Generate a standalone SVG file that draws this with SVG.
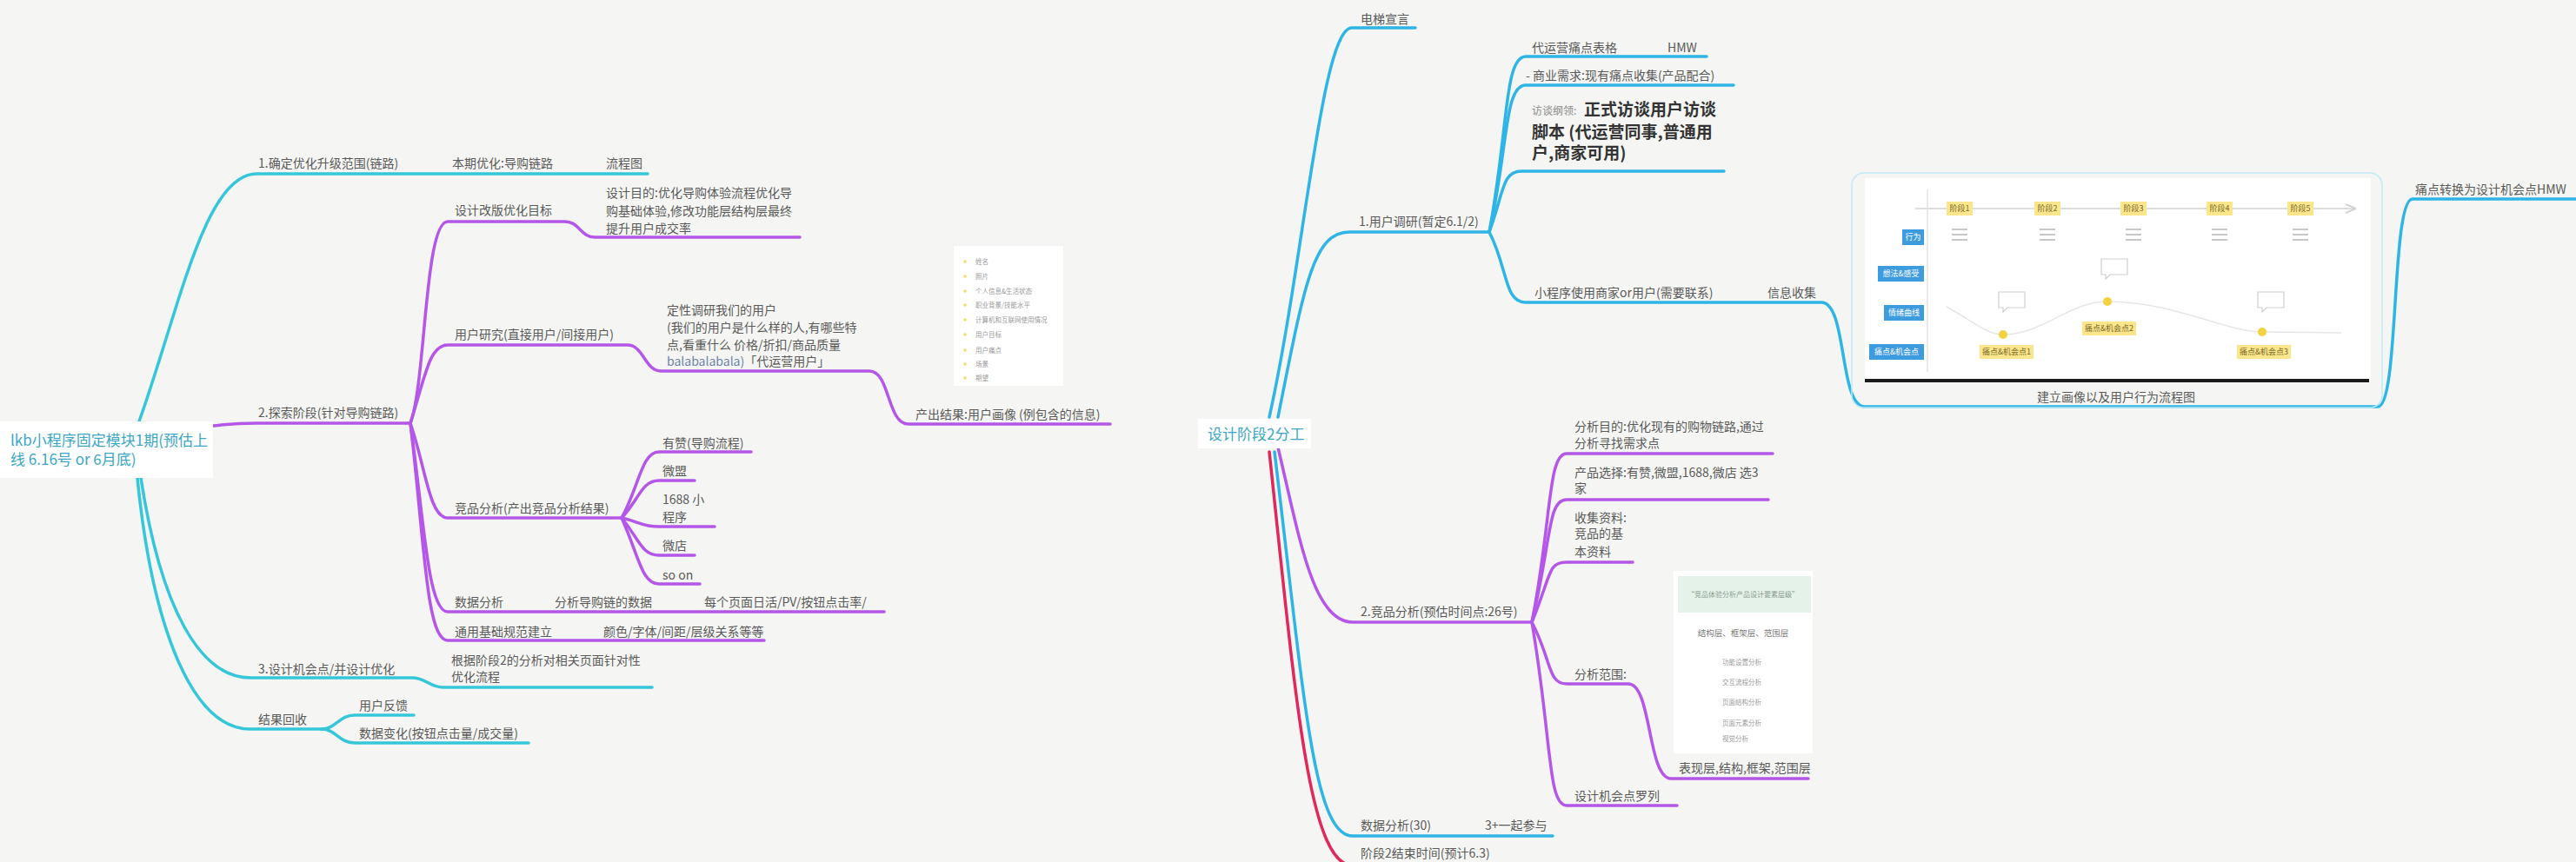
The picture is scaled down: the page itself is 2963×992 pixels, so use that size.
<svg xmlns="http://www.w3.org/2000/svg" width="2963" height="992" viewBox="0 0 2963 992">
<style>
.t{font-family:"Noto Sans CJK SC","Noto Sans",sans-serif;font-size:14px;fill:#595959}
.root{font-size:17px;fill:#3ba7c4}
.big{font-size:19px;font-weight:bold;fill:#333}
.sm{font-size:12px;fill:#8a8a8a}
.tiny{font-size:7.5px;fill:#9a9a9a}
.hdr{font-size:8px;fill:#8a9a8f}
.lay{font-size:9.5px;fill:#777}
.tb{font-size:9px;fill:#fff}
.ty{font-size:9px;fill:#7a6a2a}
.ln{fill:none;stroke-width:3.5;stroke-linecap:round;stroke-linejoin:round}
.c1{stroke:#36c6da}
.c2{stroke:#2fb4e6}
.p{stroke:#b457e8}
.r{stroke:#e0285a}
.lab{fill:#3d9be0}
.yel{fill:#fbe68c}
.bub{fill:#fff;stroke:#cfcfcf;stroke-width:1.2}
</style>
<defs>
<marker id="ah" viewBox="0 0 10 10" refX="9" refY="5" markerWidth="8" markerHeight="8" orient="auto"><path d="M0,1 L10,5 L0,9" fill="none" stroke="#cfcfcf" stroke-width="1.5"/></marker>
</defs>
<rect width="2963" height="992" fill="#f5f6f3"/>

<g id="connectors">
<path class="ln c1" d="M160,485 C205,360 235,200 295,200 L745,200"/>
<path class="ln p" d="M245,490 C265,488 270,487 295,487 L472,487"/>
<path class="ln p" d="M472,487 C490,440 488,255 515,255 L650,255 C666,255 668,273 684,273 L920,273"/>
<path class="ln p" d="M472,487 C490,430 494,397 515,397 L722,397 C740,397 742,427 760,427 L1000,427 C1024,427 1020,488 1045,488 L1277,488"/>
<path class="ln p" d="M472,487 C490,540 494,596 515,596 L715,596"/>
<path class="ln p" d="M472,487 C488,600 492,704 515,704 L1017,704"/>
<path class="ln p" d="M472,487 C488,620 490,737 515,737 L879,737"/>
<path class="ln p" d="M715,596 C735,560 738,520 758,520 L864,520"/>
<path class="ln p" d="M715,596 C735,575 738,553 758,553 L799,553"/>
<path class="ln p" d="M715,596 C735,600 738,606 758,606 L822,606"/>
<path class="ln p" d="M715,596 C735,620 738,639 758,639 L799,639"/>
<path class="ln p" d="M715,596 C735,640 738,672 758,672 L805,672"/>
<path class="ln c1" d="M162,550 C185,700 230,780 288,780 L474,780 C490,780 494,791 510,791 L750,791"/>
<path class="ln c1" d="M158,550 C175,720 220,839 288,839 L370,839"/>
<path class="ln c1" d="M370,839 C386,839 390,823 408,823 L476,823"/>
<path class="ln c1" d="M370,839 C386,839 390,855 408,855 L608,855"/>
<path class="ln c2" d="M1460,480 C1500,300 1520,32 1555,32 L1628,32"/>
<path class="ln c2" d="M1470,480 C1500,330 1510,267 1552,267 L1713,267"/>
<path class="ln c2" d="M1713,267 C1735,150 1730,65 1755,65 L1963,65"/>
<path class="ln c2" d="M1713,267 C1735,170 1730,98 1755,98 L1994,98"/>
<path class="ln c2" d="M1713,267 C1730,220 1728,197 1750,197 L1983,197"/>
<path class="ln c2" d="M1713,267 C1735,310 1730,348 1755,348 L2095,348 C2125,348 2115,468 2145,468 L2735,468 C2760,468 2750,229 2775,229 L2963,229"/>
<path class="ln p" d="M1470,515 C1495,620 1510,716 1556,716 L1762,716"/>
<path class="ln p" d="M1762,716 C1785,600 1780,522 1802,522 L2039,522"/>
<path class="ln p" d="M1762,716 C1785,620 1780,575 1802,575 L2034,575"/>
<path class="ln p" d="M1762,716 C1785,660 1780,647 1802,647 L1878,647"/>
<path class="ln p" d="M1762,716 C1785,760 1780,787 1802,787 L1873,787 C1900,787 1895,896 1922,896 L2080,896"/>
<path class="ln p" d="M1762,716 C1785,850 1780,927 1802,927 L1929,927"/>
<path class="ln c2" d="M1466,520 C1500,800 1510,962 1556,962 L1786,962"/>
<path class="ln r" d="M1460,520 C1490,800 1505,994 1555,996"/>
</g>

<g id="root-left">
<rect x="0" y="485" width="245" height="65" fill="#ffffff"/>
<text class="t root" x="12" y="513">lkb小程序固定模块1期(预估上</text>
<text class="t root" x="12" y="535">线 6.16号 or 6月底)</text>
</g>
<g id="n1"><text class="t" x="297" y="193">1.确定优化升级范围(链路)</text></g>
<g id="n1-1"><text class="t" x="520" y="193">本期优化:导购链路</text></g>
<g id="n1-1-1"><text class="t" x="697" y="193">流程图</text></g>
<g id="n2"><text class="t" x="297" y="480">2.探索阶段(针对导购链路)</text></g>
<g id="n2-1"><text class="t" x="523" y="247">设计改版优化目标</text></g>
<g id="n2-1-1">
<text class="t" x="697" y="227">设计目的:优化导购体验流程优化导</text>
<text class="t" x="697" y="248">购基础体验,修改功能层结构层最终</text>
<text class="t" x="697" y="268">提升用户成交率</text>
</g>
<g id="n2-2"><text class="t" x="523" y="390">用户研究(直接用户/间接用户)</text></g>
<g id="n2-2-1">
<text class="t" x="767" y="362">定性调研我们的用户</text>
<text class="t" x="767" y="382">(我们的用户是什么样的人,有哪些特</text>
<text class="t" x="767" y="402">点,看重什么 价格/折扣/商品质量</text>
<text class="t" x="767" y="421"><tspan fill="#6b82ad">balabalabala)</tspan>「代运营用户」</text>
</g>
<g id="n2-2-2">
<rect x="1097" y="283" width="126" height="161" fill="#ffffff"/>
<g fill="#f2dc6a">
<circle cx="1110" cy="301" r="1.8"/><circle cx="1110" cy="318" r="1.8"/><circle cx="1110" cy="335" r="1.8"/><circle cx="1110" cy="351" r="1.8"/><circle cx="1110" cy="368" r="1.8"/><circle cx="1110" cy="385" r="1.8"/><circle cx="1110" cy="403" r="1.8"/><circle cx="1110" cy="419" r="1.8"/><circle cx="1110" cy="435" r="1.8"/>
</g>
<text class="t tiny" x="1122" y="304">姓名</text>
<text class="t tiny" x="1122" y="321">照片</text>
<text class="t tiny" x="1122" y="338">个人信息&amp;生活状态</text>
<text class="t tiny" x="1122" y="354">职业背景/技能水平</text>
<text class="t tiny" x="1122" y="371">计算机和互联网使用情况</text>
<text class="t tiny" x="1122" y="388">用户目标</text>
<text class="t tiny" x="1122" y="406">用户痛点</text>
<text class="t tiny" x="1122" y="422">场景</text>
<text class="t tiny" x="1122" y="438">期望</text>
<text class="t" x="1053" y="482">产出结果:用户画像 (例包含的信息)</text>
</g>
<g id="n2-3"><text class="t" x="523" y="590">竞品分析(产出竞品分析结果)</text></g>
<g id="n2-3-1"><text class="t" x="762" y="515">有赞(导购流程)</text></g>
<g id="n2-3-2"><text class="t" x="762" y="547">微盟</text></g>
<g id="n2-3-3"><text class="t" x="762" y="580">1688 小</text><text class="t" x="762" y="600">程序</text></g>
<g id="n2-3-4"><text class="t" x="762" y="633">微店</text></g>
<g id="n2-3-5"><text class="t" x="762" y="667">so on</text></g>
<g id="n2-4"><text class="t" x="523" y="698">数据分析</text></g>
<g id="n2-4-1"><text class="t" x="638" y="698">分析导购链的数据</text></g>
<g id="n2-4-2"><text class="t" x="810" y="698">每个页面日活/PV/按钮点击率/</text></g>
<g id="n2-5"><text class="t" x="523" y="732">通用基础规范建立</text></g>
<g id="n2-5-1"><text class="t" x="694" y="732">颜色/字体/间距/层级关系等等</text></g>
<g id="n3"><text class="t" x="297" y="775">3.设计机会点/并设计优化</text></g>
<g id="n3-1">
<text class="t" x="519" y="765">根据阶段2的分析对相关页面针对性</text>
<text class="t" x="519" y="784">优化流程</text>
</g>
<g id="n4"><text class="t" x="297" y="833">结果回收</text></g>
<g id="n4-1"><text class="t" x="413" y="817">用户反馈</text></g>
<g id="n4-2"><text class="t" x="413" y="849">数据变化(按钮点击量/成交量)</text></g>

<g id="root-right">
<rect x="1378" y="482" width="130" height="34" fill="#ffffff"/>
<text class="t root" x="1389" y="506">设计阶段2分工</text>
</g>
<g id="r0"><text class="t" x="1565" y="27">电梯宣言</text></g>
<g id="r1"><text class="t" x="1563" y="260">1.用户调研(暂定6.1/2)</text></g>
<g id="r1-1"><text class="t" x="1762" y="60">代运营痛点表格</text><text class="t" x="1918" y="60">HMW</text></g>
<g id="r1-2"><text class="t" x="1755" y="92">- 商业需求:现有痛点收集(产品配合)</text></g>
<g id="r1-3">
<text class="t sm" x="1762" y="132">访谈纲领:</text>
<text class="t big" x="1822" y="133">正式访谈用户访谈</text>
<text class="t big" x="1762" y="159">脚本 (代运营同事,普通用</text>
<text class="t big" x="1762" y="183">户,商家可用)</text>
</g>
<g id="r1-4"><text class="t" x="1765" y="342">小程序使用商家or用户(需要联系)</text></g>
<g id="r1-4-1"><text class="t" x="2033" y="342">信息收集</text></g>
<g id="r1-4-1-1">
<rect x="2130" y="199" width="610" height="270" rx="14" fill="none" stroke="#bfeaf6" stroke-width="1.5"/>
<rect x="2145" y="205" width="582" height="233" fill="#ffffff"/>
<line x1="2203" y1="240" x2="2709" y2="240" stroke="#d2d2d2" stroke-width="1.5" marker-end="url(#ah)"/>
<line x1="2217" y1="218" x2="2217" y2="428" stroke="#e2e2e2" stroke-width="1.5"/>
<rect class="yel" x="2239" y="232" width="30" height="16"/><text class="t ty" x="2254" y="243" text-anchor="middle">阶段1</text>
<rect class="yel" x="2340" y="232" width="30" height="16"/><text class="t ty" x="2355" y="243" text-anchor="middle">阶段2</text>
<rect class="yel" x="2439" y="232" width="30" height="16"/><text class="t ty" x="2454" y="243" text-anchor="middle">阶段3</text>
<rect class="yel" x="2538" y="232" width="30" height="16"/><text class="t ty" x="2553" y="243" text-anchor="middle">阶段4</text>
<rect class="yel" x="2631" y="232" width="30" height="16"/><text class="t ty" x="2646" y="243" text-anchor="middle">阶段5</text>
<g stroke="#b5b5b5" stroke-width="1.3">
<path d="M2245,264h18M2245,270h18M2245,276h18"/>
<path d="M2346,264h18M2346,270h18M2346,276h18"/>
<path d="M2445,264h18M2445,270h18M2445,276h18"/>
<path d="M2544,264h18M2544,270h18M2544,276h18"/>
<path d="M2637,264h18M2637,270h18M2637,276h18"/>
</g>
<rect class="lab" x="2188" y="264" width="25" height="18"/><text class="t tb" x="2200.5" y="276" text-anchor="middle">行为</text>
<rect class="lab" x="2160" y="306" width="53" height="18"/><text class="t tb" x="2186.5" y="318" text-anchor="middle">想法&amp;感受</text>
<rect class="lab" x="2167" y="351" width="46" height="18"/><text class="t tb" x="2190" y="363" text-anchor="middle">情绪曲线</text>
<rect class="lab" x="2150" y="396" width="63" height="18"/><text class="t tb" x="2181.5" y="408" text-anchor="middle">痛点&amp;机会点</text>
<path d="M2239,353 C2270,370 2285,385 2304,385 C2350,385 2380,347 2424,347 C2500,347 2560,382 2602,382 C2640,382 2670,383 2693,383" fill="none" stroke="#e6e6e6" stroke-width="1.5"/>
<path class="bub" d="M2299,336 h30 v18 h-20 l-5,5 v-5 h-5 z"/>
<path class="bub" d="M2417,298 h30 v18 h-20 l-5,5 v-5 h-5 z"/>
<path class="bub" d="M2597,336 h30 v18 h-20 l-5,5 v-5 h-5 z"/>
<circle cx="2304" cy="385" r="5" fill="#f3d240"/>
<circle cx="2424" cy="347" r="5" fill="#f3d240"/>
<circle cx="2602" cy="382" r="5" fill="#f3d240"/>
<rect class="yel" x="2277" y="397" width="62" height="16"/><text class="t ty" x="2308" y="408" text-anchor="middle">痛点&amp;机会点1</text>
<rect class="yel" x="2395" y="370" width="62" height="16"/><text class="t ty" x="2426" y="381" text-anchor="middle">痛点&amp;机会点2</text>
<rect class="yel" x="2573" y="397" width="62" height="16"/><text class="t ty" x="2604" y="408" text-anchor="middle">痛点&amp;机会点3</text>
<line x1="2145" y1="438" x2="2725" y2="438" stroke="#1a1a1a" stroke-width="4"/>
<text class="t" x="2434" y="462" text-anchor="middle">建立画像以及用户行为流程图</text>
</g>
<g id="r1-4-1-1-1"><text class="t" x="2778" y="223">痛点转换为设计机会点HMW</text></g>
<g id="r2"><text class="t" x="1565" y="709">2.竞品分析(预估时间点:26号)</text></g>
<g id="r2-1">
<text class="t" x="1811" y="496">分析目的:优化现有的购物链路,通过</text>
<text class="t" x="1811" y="515">分析寻找需求点</text>
</g>
<g id="r2-2">
<text class="t" x="1811" y="549">产品选择:有赞,微盟,1688,微店 选3</text>
<text class="t" x="1811" y="567">家</text>
</g>
<g id="r2-3">
<text class="t" x="1811" y="601">收集资料:</text>
<text class="t" x="1811" y="619">竞品的基</text>
<text class="t" x="1811" y="640">本资料</text>
</g>
<g id="r2-4"><text class="t" x="1811" y="781">分析范围:</text></g>
<g id="r2-4-1">
<rect x="1925" y="657" width="160" height="210" fill="#ffffff"/>
<rect x="1930" y="663" width="153" height="42" fill="#e4f2e9"/>
<text class="t hdr" x="2005" y="687" text-anchor="middle">“竞品体验分析产品设计要素层级”</text>
<text class="t lay" x="2005" y="732" text-anchor="middle">结构层、框架层、范围层</text>
<text class="t tiny" x="1981" y="765">功能设置分析</text>
<text class="t tiny" x="1981" y="788">交互流程分析</text>
<text class="t tiny" x="1981" y="811">页面结构分析</text>
<text class="t tiny" x="1981" y="835">页面元素分析</text>
<text class="t tiny" x="1981" y="853">视觉分析</text>
<text class="t" x="1931" y="889">表现层,结构,框架,范围层</text>
</g>
<g id="r2-5"><text class="t" x="1811" y="921">设计机会点罗列</text></g>
<g id="r3"><text class="t" x="1565" y="955">数据分析(30)</text><text class="t" x="1708" y="955">3+一起参与</text></g>
<g id="r4"><text class="t" x="1565" y="987">阶段2结束时间(预计6.3)</text></g>
</svg>
